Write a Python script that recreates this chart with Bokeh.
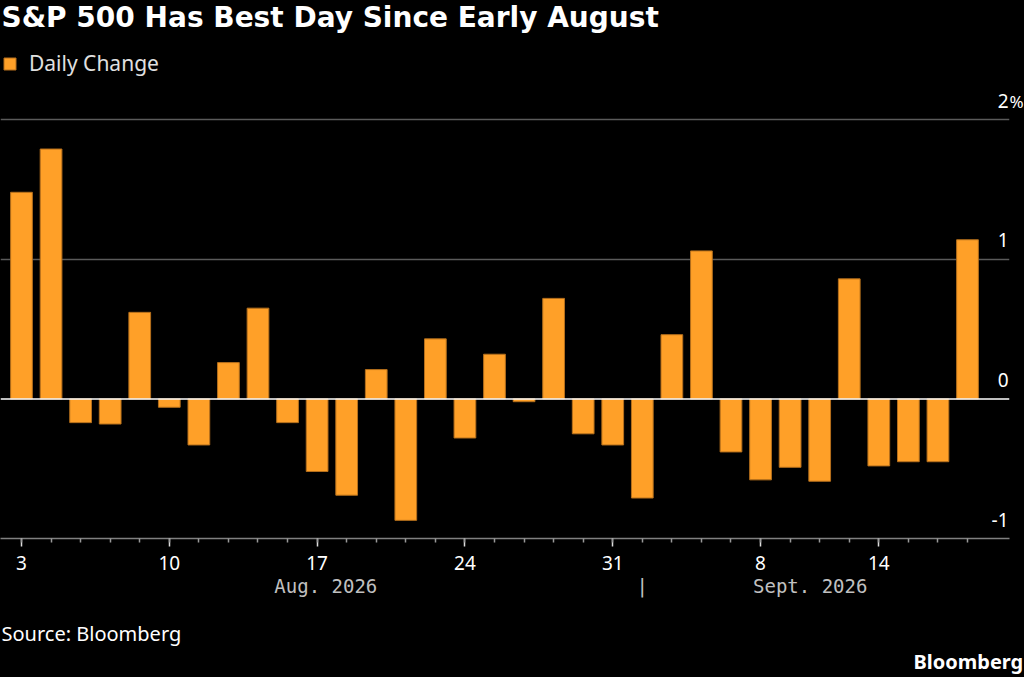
from bokeh.plotting import figure
from bokeh.layouts import column
from bokeh.models import (FixedTicker, LinearAxis, Label, Span, Grid,
                          Range1d, ColumnDataSource, Legend, LegendItem)
from bokeh.embed import file_html
from bokeh.resources import INLINE

# ---------------- data ----------------
months = ["Aug"] * 21 + ["Sep"] * 12
days = [3, 4, 5, 6, 7, 10, 11, 12, 13, 14, 17, 18, 19, 20, 21, 24, 25, 26, 27, 28, 31,
        1, 2, 3, 4, 8, 9, 10, 11, 14, 15, 16, 17]
daily_change = [1.48, 1.79, -0.17, -0.18, 0.62, -0.06, -0.33, 0.26, 0.65, -0.17,
                -0.52, -0.69, 0.21, -0.87, 0.43, -0.28, 0.32, -0.02, 0.72, -0.25,
                -0.33, -0.71, 0.46, 1.06, -0.38, -0.58, -0.49, -0.59, 0.86, -0.48,
                -0.45, -0.45, 1.14]
tick_dates = [("Aug", 3), ("Aug", 10), ("Aug", 17), ("Aug", 24), ("Aug", 31),
              ("Sep", 8), ("Sep", 14)]
month_names = {"Aug": "Aug. 2026", "Sep": "Sept. 2026"}
y_ticks = [-1, 0, 1, 2]
y_tick_labels = ["-1", "0", "1", "2"]
unit_label = "%"

title_text = "S&P 500 Has Best Day Since Early August"
series_name = "Daily Change"
source_text = "Source: Bloomberg"
brand_text = "Bloomberg"

# ---------------- styling ----------------
ORANGE = "#FFA028"
BG = "#000000"
FRAME_H = 538
FRAME_W = 1009
BOTTOM = 70
FOOT_H = 68
PX_PER_UNIT = 139.6

x = list(range(len(daily_change)))
src = ColumnDataSource(dict(x=x, top=daily_change, month=months, day=days))

x_start = -0.71
x_end = 32 + (FRAME_W - 967) / 29.56
y_start = -1.0
y_end = y_start + FRAME_H / PX_PER_UNIT
shift = 18 / PX_PER_UNIT

p = figure(width=1024, frame_width=FRAME_W, frame_height=FRAME_H,
           x_range=Range1d(x_start, x_end), y_range=Range1d(y_start, y_end),
           y_axis_location=None, output_backend="svg", toolbar_location=None,
           min_border_left=0, min_border_right=1024 - FRAME_W, min_border_top=0,
           min_border_bottom=BOTTOM, background_fill_color=BG, border_fill_color=BG)
p.title = None
p.outline_line_color = None
p.grid.grid_line_color = None
p.frame_align = False

# title, inside the top of the frame
p.add_layout(Label(x=x_start, y=y_end, x_offset=1, y_offset=-17, text=title_text,
                   text_font="DejaVu Sans", text_font_style="bold",
                   text_font_size="28px", text_color="#ffffff",
                   text_align="left", text_baseline="alphabetic"))

# gridlines
p.add_layout(Grid(dimension=1, ticker=FixedTicker(ticks=[t for t in y_ticks if t > 0]),
                  grid_line_color="#5a5a5a", grid_line_width=1.5))

r = p.vbar(x="x", top="top", bottom=0, width=0.735, source=src,
           fill_color=ORANGE, line_color="#b56f1c", line_width=1)

p.add_layout(Span(location=0, dimension="width", line_color="#ffffff", line_width=1.5))

# y labels (numbers right-aligned inside the frame, unit hanging outside)
for v, t in zip(y_ticks, y_tick_labels):
    p.add_layout(Label(x=x_end, y=v, text=t, x_offset=-1, y_offset=19,
                       text_align="right", text_baseline="alphabetic",
                       text_font="Noto Sans", text_font_size="19px",
                       text_color="#ffffff"))
p.extra_y_ranges = {"lab": Range1d(y_start - shift, y_end - shift)}
ua = LinearAxis(y_range_name="lab", ticker=FixedTicker(ticks=[max(y_ticks)]),
                major_label_overrides={max(y_ticks): unit_label})
ua.axis_line_color = None
ua.major_tick_line_color = None
ua.minor_tick_line_color = None
ua.major_tick_out = 0
ua.major_tick_in = 0
ua.major_label_standoff = 0
ua.major_label_text_color = "#ffffff"
ua.major_label_text_font = "Noto Sans"
ua.major_label_text_font_size = "17px"
p.add_layout(ua, "right")

# x axis (days)
major_idx = [i for i, md in enumerate(zip(months, days)) if md in tick_dates]
xa = p.xaxis[0]
xa.ticker = FixedTicker(ticks=major_idx, minor_ticks=x)
xa.major_label_overrides = {i: str(days[i]) for i in major_idx}
xa.axis_line_color = "#808080"
xa.axis_line_width = 1.5
xa.major_tick_line_color = "#dddddd"
xa.major_tick_line_width = 1.5
xa.major_tick_out = 8
xa.major_tick_in = 0
xa.minor_tick_line_color = "#999999"
xa.minor_tick_line_width = 1.5
xa.minor_tick_out = 4
xa.minor_tick_in = 0
xa.major_label_text_color = "#ffffff"
xa.major_label_text_font = "Noto Sans"
xa.major_label_text_font_size = "19px"
xa.major_label_standoff = 9

# month axis
first_sep = months.index("Sep")
aug_c = (x_start + first_sep - 0.5) / 2 + 0.4
sep_c = (first_sep - 0.5 + x_end) / 2 - 0.28
ma = LinearAxis(ticker=FixedTicker(ticks=[aug_c, float(first_sep), sep_c]),
                major_label_overrides={aug_c: month_names["Aug"], float(first_sep): "|",
                                       sep_c: month_names["Sep"]})
ma.axis_line_color = None
ma.major_tick_line_color = None
ma.minor_tick_line_color = None
ma.major_label_text_color = "#c0c0c0"
ma.major_label_text_font = "DejaVu Sans Mono"
ma.major_label_text_font_size = "19px"
ma.major_label_standoff = -4
p.add_layout(ma, "below")

# legend
legend = Legend(items=[LegendItem(label=series_name, renderers=[r])],
                location=(2, FRAME_H - 77), background_fill_alpha=0,
                border_line_color=None,
                label_text_color="#e0e0e0", label_text_font="Noto Sans",
                label_text_font_size="21px", glyph_width=15, glyph_height=15,
                padding=0, margin=0, label_standoff=12, spacing=0)
p.add_layout(legend)

# footer
f = figure(width=1024, height=FOOT_H, frame_width=1024, frame_height=FOOT_H,
           x_range=Range1d(0, 1024), y_range=Range1d(0, FOOT_H),
           x_axis_location=None, y_axis_location=None, output_backend="svg",
           toolbar_location=None, min_border=0, background_fill_color=BG,
           border_fill_color=BG)
f.title = None
f.outline_line_color = None
f.grid.grid_line_color = None
f.frame_align = False
f.add_layout(Label(x=1, y=43, text=source_text, text_font="Noto Sans",
                   text_font_size="20px", text_color="#ffffff",
                   text_align="left", text_baseline="alphabetic"))
f.add_layout(Label(x=913, y=15, text=brand_text, text_font="Noto Sans",
                   text_font_size="20px", text_font_style="bold", text_color="#ffffff",
                   text_align="left", text_baseline="alphabetic"))

layout = column(p, f, spacing=0, styles={"background-color": BG})
html = file_html(layout, INLINE)
html = html.replace("<body>", '<body style="background:#000000;">')
open("out.html", "w").write(html)
